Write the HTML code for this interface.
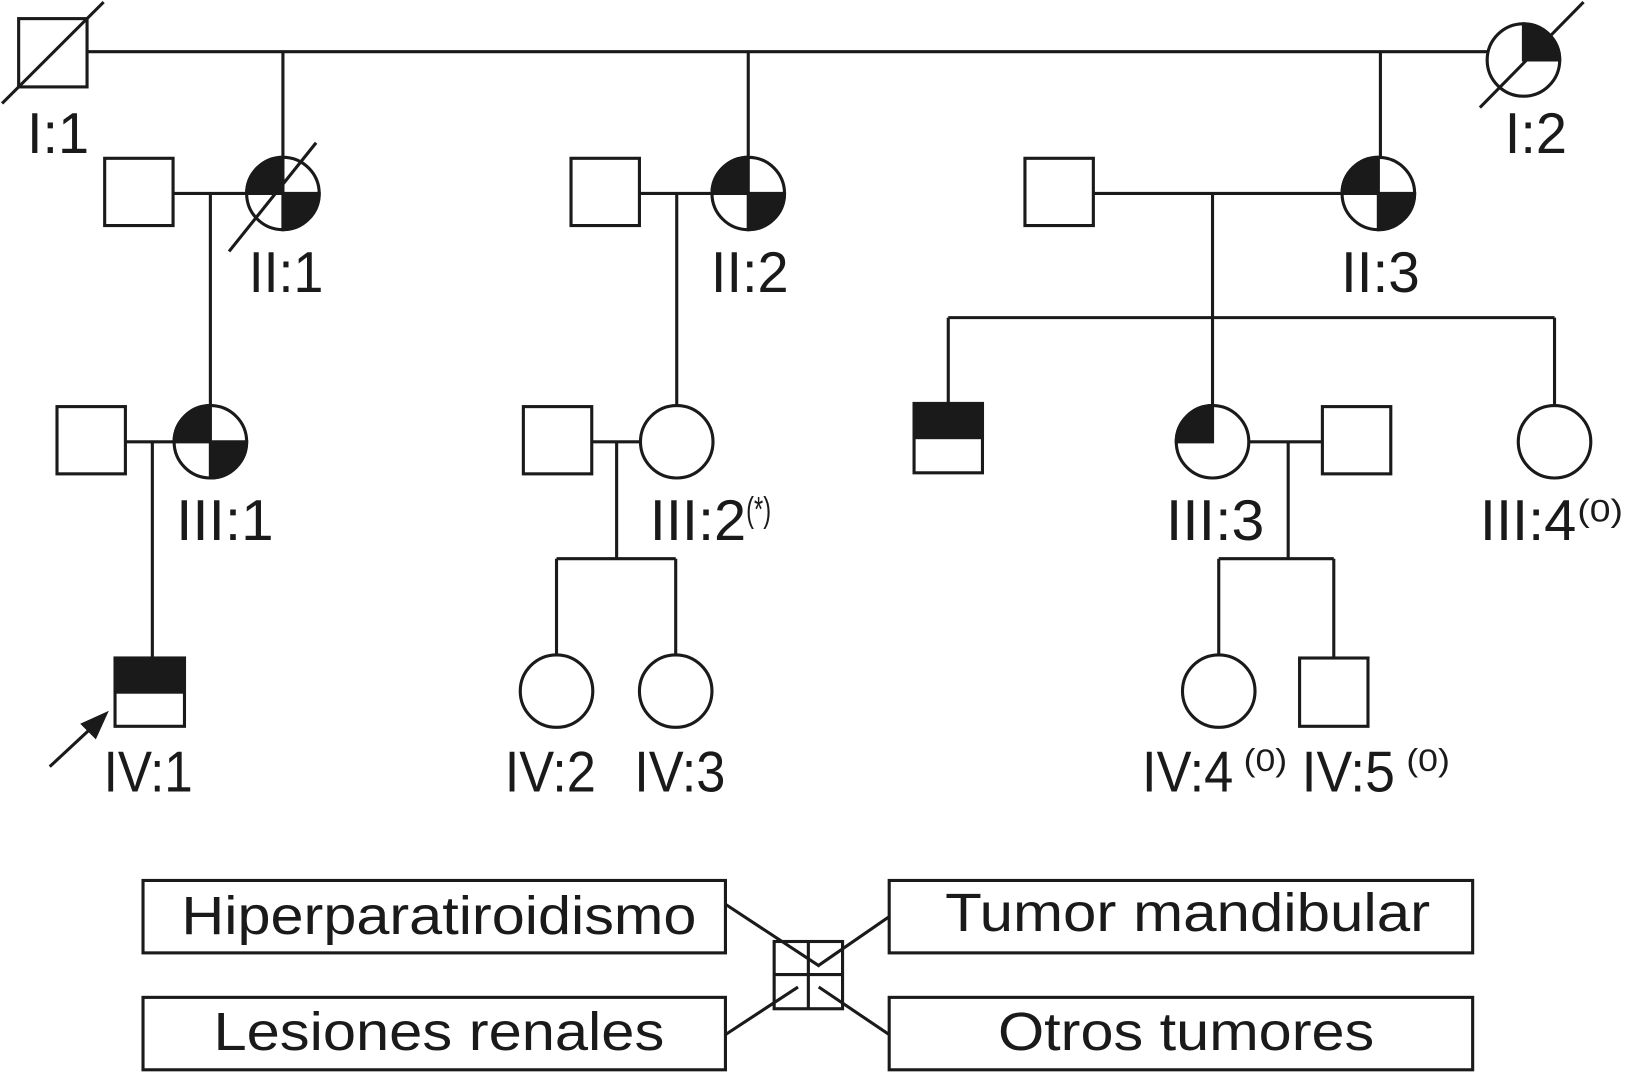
<!DOCTYPE html>
<html><head><meta charset="utf-8"><style>html,body{margin:0;padding:0;background:#fff}svg{display:block}</style></head>
<body>
<svg width="1625" height="1076" viewBox="0 0 1568 1040" preserveAspectRatio="none" xmlns="http://www.w3.org/2000/svg">
<g stroke="#1a1a1a" stroke-width="3" fill="none">
<!-- lines -->
<line x1="84" y1="50" x2="1436" y2="50"/>
<line x1="273" y1="50" x2="273" y2="152"/>
<line x1="722" y1="50" x2="722" y2="152"/>
<line x1="1332" y1="50" x2="1332" y2="152"/>
<line x1="167" y1="187" x2="238" y2="187"/>
<line x1="203" y1="187" x2="203" y2="392"/>
<line x1="617" y1="187" x2="687" y2="187"/>
<line x1="653" y1="187" x2="653" y2="392"/>
<line x1="1055" y1="187" x2="1295" y2="187"/>
<line x1="1170" y1="187" x2="1170" y2="392"/>
<line x1="915" y1="307" x2="1500" y2="307"/>
<line x1="915" y1="307" x2="915" y2="390"/>
<line x1="1500" y1="307" x2="1500" y2="392"/>
<line x1="121" y1="427" x2="168" y2="427"/>
<line x1="147" y1="427" x2="147" y2="636"/>
<line x1="571" y1="427" x2="618" y2="427"/>
<line x1="595" y1="427" x2="595" y2="540"/>
<line x1="537" y1="540" x2="652" y2="540"/>
<line x1="537" y1="540" x2="537" y2="633"/>
<line x1="652" y1="540" x2="652" y2="633"/>
<line x1="1205" y1="427" x2="1276" y2="427"/>
<line x1="1243" y1="427" x2="1243" y2="540"/>
<line x1="1176" y1="540" x2="1287" y2="540"/>
<line x1="1176" y1="540" x2="1176" y2="633"/>
<line x1="1287" y1="540" x2="1287" y2="636"/>
<!-- squares -->
<rect x="18" y="18" width="66" height="66"/>
<line x1="2" y1="100" x2="100" y2="2"/>
<rect x="101" y="153" width="66" height="65"/>
<rect x="551" y="153" width="66" height="65"/>
<rect x="989" y="153" width="66" height="65"/>
<rect x="55" y="393" width="66" height="65"/>
<rect x="505" y="393" width="66" height="65"/>
<rect x="1276" y="393" width="66" height="65"/>
<rect x="1254" y="636" width="66" height="66"/>
<rect x="882" y="390" width="66" height="33" fill="#1a1a1a"/>
<rect x="882" y="390" width="66" height="67"/>
<rect x="111" y="636" width="67" height="33" fill="#1a1a1a"/>
<rect x="111" y="636" width="67" height="66"/>
<!-- circles -->
<path d="M1470 58 L1470 23 A35 35 0 0 1 1505 58 Z" fill="#1a1a1a"/>
<circle cx="1470" cy="58" r="35"/>
<line x1="1428" y1="104" x2="1528" y2="2"/>
<g id="q2">
<path d="M273 187 L238 187 A35 35 0 0 1 273 152 Z M273 187 L308 187 A35 35 0 0 1 273 222 Z" fill="#1a1a1a"/>
<circle cx="273" cy="187" r="35"/>
</g>
<line x1="221" y1="243" x2="305" y2="138"/>
<path d="M722 187 L687 187 A35 35 0 0 1 722 152 Z M722 187 L757 187 A35 35 0 0 1 722 222 Z" fill="#1a1a1a"/>
<circle cx="722" cy="187" r="35"/>
<path d="M1330 187 L1295 187 A35 35 0 0 1 1330 152 Z M1330 187 L1365 187 A35 35 0 0 1 1330 222 Z" fill="#1a1a1a"/>
<circle cx="1330" cy="187" r="35"/>
<path d="M203 427 L168 427 A35 35 0 0 1 203 392 Z M203 427 L238 427 A35 35 0 0 1 203 462 Z" fill="#1a1a1a"/>
<circle cx="203" cy="427" r="35"/>
<circle cx="653" cy="427" r="35"/>
<path d="M1170 427 L1135 427 A35 35 0 0 1 1170 392 Z" fill="#1a1a1a"/>
<circle cx="1170" cy="427" r="35"/>
<circle cx="1500" cy="427" r="35"/>
<circle cx="537" cy="668" r="35"/>
<circle cx="652" cy="668" r="35"/>
<circle cx="1176" cy="668" r="35"/>
<!-- arrow -->
<line x1="48" y1="741" x2="92" y2="700"/>
<polygon points="102,690 80,700 92,712" fill="#1a1a1a"/>
<!-- legend -->
<rect x="138" y="851" width="562" height="70"/>
<rect x="138" y="964" width="562" height="70"/>
<rect x="858" y="851" width="563" height="70"/>
<rect x="858" y="964" width="563" height="70"/>
<rect x="747" y="910" width="66" height="65"/>
<line x1="780" y1="910" x2="780" y2="975"/>
<line x1="747" y1="942" x2="813" y2="942"/>
<line x1="700" y1="886" x2="791" y2="946" transform="translate(0,-12)"/>
<line x1="700" y1="1000" x2="770" y2="954"/>
<line x1="858" y1="886" x2="790" y2="933"/>
<line x1="858" y1="1000" x2="790" y2="954"/>
</g>
<g font-family="Liberation Sans, Arial, sans-serif" fill="#1a1a1a" font-size="56">
<text x="26" y="148" textLength="60" lengthAdjust="spacingAndGlyphs">I:1</text>
<text x="1452" y="148" textLength="60" lengthAdjust="spacingAndGlyphs">I:2</text>
<text x="240" y="282" textLength="72" lengthAdjust="spacingAndGlyphs">II:1</text>
<text x="686" y="282" textLength="75" lengthAdjust="spacingAndGlyphs">II:2</text>
<text x="1294" y="282" textLength="76" lengthAdjust="spacingAndGlyphs">II:3</text>
<text x="170" y="522" textLength="94" lengthAdjust="spacingAndGlyphs">III:1</text>
<text x="627" y="522" textLength="93" lengthAdjust="spacingAndGlyphs">III:2</text>
<text x="720" y="504" font-size="34" textLength="24" lengthAdjust="spacingAndGlyphs">(*)</text>
<text x="1125" y="522" textLength="95" lengthAdjust="spacingAndGlyphs">III:3</text>
<text x="1428" y="522" textLength="93" lengthAdjust="spacingAndGlyphs">III:4</text>
<text x="1522" y="504" font-size="30" textLength="44" lengthAdjust="spacingAndGlyphs">(0)</text>
<text x="100" y="765" textLength="86" lengthAdjust="spacingAndGlyphs">IV:1</text>
<text x="487" y="765" textLength="88" lengthAdjust="spacingAndGlyphs">IV:2</text>
<text x="612" y="765" textLength="88" lengthAdjust="spacingAndGlyphs">IV:3</text>
<text x="1102" y="765" textLength="88" lengthAdjust="spacingAndGlyphs">IV:4</text>
<text x="1200" y="745" font-size="30" textLength="42" lengthAdjust="spacingAndGlyphs">(0)</text>
<text x="1256" y="765" textLength="90" lengthAdjust="spacingAndGlyphs">IV:5</text>
<text x="1357" y="745" font-size="30" textLength="42" lengthAdjust="spacingAndGlyphs">(0)</text>
<text x="175" y="903" font-size="52" textLength="497" lengthAdjust="spacingAndGlyphs">Hiperparatiroidismo</text>
<text x="206" y="1015" font-size="52" textLength="435" lengthAdjust="spacingAndGlyphs">Lesiones renales</text>
<text x="912" y="900" font-size="52" textLength="468" lengthAdjust="spacingAndGlyphs">Tumor mandibular</text>
<text x="963" y="1015" font-size="52" textLength="363" lengthAdjust="spacingAndGlyphs">Otros tumores</text>
</g>
</svg>
</body></html>
